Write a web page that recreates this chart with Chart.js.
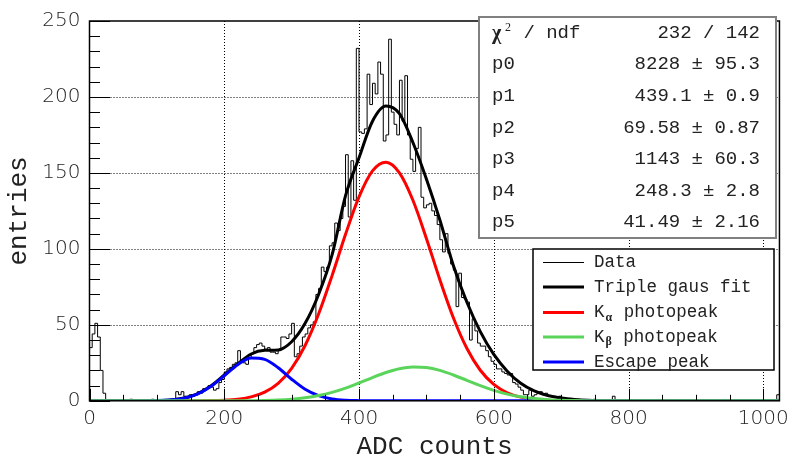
<!DOCTYPE html>
<html>
<head>
<meta charset="utf-8">
<title>ADC spectrum</title>
<script src="https://cdn.jsdelivr.net/npm/chart.js@4.4.0/dist/chart.umd.min.js"></script>
<style>
  html, body { margin: 0; padding: 0; background: #fff; }
  #wrap { width: 795px; height: 466px; }
</style>
</head>
<body>
<div id="wrap"><canvas id="adcChart" width="795" height="466"></canvas></div>
<script>
// ADC spectrum with triple gaussian fit

// Histogram: 256 bins of 4 ADC counts, 0..1024
const binWidth = 4;
const entries = [
  35, 44, 51, 42, 20, 5, 0, 0, 0, 0, 0, 0, 0, 0, 0, 1,
  0, 0, 0, 0, 0, 0, 0, 1, 0, 0, 0, 0, 0, 0, 1, 1,
  6, 4, 6, 3, 2, 4, 3, 4, 6, 5, 8, 8, 10, 9, 7, 8,
  12, 14, 19, 21, 22, 24, 25, 33, 26, 25, 24, 28, 31, 35, 37, 38,
  36, 34, 35, 32, 32, 31, 33, 42, 42, 41, 44, 51, 29, 31, 36, 42,
  44, 48, 50, 52, 70, 74, 88, 85, 88, 102, 104, 117, 112, 120, 128, 162,
  121, 158, 132, 232, 177, 176, 179, 215, 195, 209, 202, 223, 215, 171, 175, 238,
  190, 182, 175, 211, 184, 214, 175, 159, 151, 166, 180, 134, 127, 129, 130, 125,
  122, 116, 106, 98, 110, 97, 90, 86, 62, 84, 68, 67, 65, 40, 54, 46,
  38, 36, 36, 33, 29, 26, 24, 21, 21, 19, 18, 17, 18, 12, 11, 9,
  7, 4, 4, 7, 3, 4, 5, 6, 4, 5, 3, 3, 3, 2, 3, 2,
  2, 1, 0, 1, 0, 1, 0, 0, 0, 0, 0, 1, 0, 0, 0, 0,
  0, 0, 3, 0, 0, 0, 0, 0, 0, 0, 0, 0, 0, 0, 0, 0,
  0, 0, 0, 0, 0, 0, 0, 0, 0, 0, 0, 0, 0, 0, 0, 0,
  0, 0, 0, 0, 0, 0, 0, 0, 0, 0, 0, 0, 0, 0, 0, 0,
  0, 0, 0, 0, 0, 0, 0, 0, 0, 0, 0, 0, 0, 0, 0, 4
];

// Fit curves sampled at these ADC values
const curveX = [0, 50, 100, 120, 140, 160, 180, 200, 220, 240, 260, 280, 300, 320, 340, 360, 380,
  400, 420, 440, 460, 480, 500, 520, 540, 560, 580, 600, 620, 640, 660, 680, 700, 720, 740, 760,
  800, 900, 1024];
const fitTotal = [0, 0, 0.2, 0.6, 1.8, 4.6, 9.8, 17.0, 24.3, 30.8, 33.2, 33.5, 38.9, 51, 70, 96, 135,
  160, 184, 194, 189, 170, 146, 119, 89, 65, 45.5, 30.5, 19.5, 11.5, 6.5, 3.5, 1.8, 0.9, 0.4, 0.2,
  0, 0, 0];
const kAlpha = [0, 0, 0, 0, 0.02, 0.05, 0.15, 0.43, 1.1, 2.6, 5.7, 11.5, 21.4, 36.4, 57.1, 82.4, 109.6,
  134.2, 151.3, 157, 150, 132, 106.9, 79.7, 54.7, 34.6, 20.1, 10.8, 5.3, 2.4, 1.0, 0.39, 0.14, 0.05, 0.02, 0,
  0, 0, 0];
const kBeta = [0, 0, 0, 0, 0, 0, 0.01, 0.02, 0.04, 0.11, 0.25, 0.53, 1.06, 1.98, 3.44, 5.56, 8.37,
  11.73, 15.3, 18.6, 21.1, 22.25, 21.9, 20.0, 17.0, 13.5, 10.0, 6.9, 4.41, 2.64, 1.47, 0.76, 0.37, 0.16, 0.07, 0.03,
  0, 0, 0];
const escapePeak = [0, 0, 0.14, 0.53, 1.69, 4.4, 9.4, 16.5, 23.8, 28.2, 27.3, 21.8, 14.2, 7.6, 3.37, 1.22, 0.36,
  0.09, 0.02, 0, 0, 0, 0, 0, 0, 0, 0, 0, 0, 0, 0, 0, 0, 0, 0, 0,
  0, 0, 0];

// Axes
const xTicks = [0, 200, 400, 600, 800, 1000];
const yTicks = [0, 50, 100, 150, 200, 250];
const xGrid = [200, 400, 600, 800, 1000];
const yGrid = [50, 100, 150, 200];

// Fit statistics box
const statNames = ['p0', 'p1', 'p2', 'p3', 'p4', 'p5'];
const statValues = ['8228 \u00b1 95.3', '439.1 \u00b1 0.9', '69.58 \u00b1 0.87', '1143 \u00b1 60.3', '248.3 \u00b1 2.8', '41.49 \u00b1 2.16'];
const chi2Text = '232 / 142';

// Legend
const legendMain = ['Data', 'Triple gaus fit', 'K', 'K', 'Escape peak'];
const legendSub = ['', '', '\u03b1', '\u03b2', ''];
const legendRest = ['', '', ' photopeak', ' photopeak', ''];

const COLORS = {
  data: '#000000',
  fit: '#000000',
  kAlpha: '#ff0000',
  kBeta: '#5ad45a',
  escape: '#0000ff'
};
const legendColors = [COLORS.data, COLORS.fit, COLORS.kAlpha, COLORS.kBeta, COLORS.escape];
const legendWidths = [1, 3, 3, 3, 3];

const MONO = "'Liberation Mono', 'DejaVu Sans Mono', monospace";
const TICKFONT = {family: "'DejaVu Sans', sans-serif", size: 20, weight: '200'};

// histogram outline points (left edge of each bin, last one closes at the range end)
const histPoints = entries.map((v, i) => ({x: i * binWidth, y: v}));
histPoints.push({x: entries.length * binWidth, y: entries[entries.length - 1]});

const toPoints = arr => curveX.map((x, i) => ({x: x, y: arr[i]}));

function curve(label, arr, color) {
    return {
        label: label,
        data: toPoints(arr),
        borderColor: color,
        borderWidth: 3,
        pointRadius: 0,
        fill: false,
        cubicInterpolationMode: 'monotone'
    };
}

// ROOT-like frame, dotted grid, inward ticks, stats box and legend
const rootStyle = {
    id: 'rootStyle',
    beforeDatasetsDraw(chart) {
        const {ctx, chartArea: a, scales: {x, y}} = chart;
        ctx.save();
        ctx.strokeStyle = '#000';
        ctx.lineWidth = 1;
        ctx.setLineDash([1, 2]);
        xGrid.forEach(v => {
            const px = Math.round(x.getPixelForValue(v)) + 0.5;
            ctx.beginPath(); ctx.moveTo(px, a.top); ctx.lineTo(px, a.bottom); ctx.stroke();
        });
        yGrid.forEach(v => {
            const py = Math.round(y.getPixelForValue(v)) + 0.5;
            ctx.beginPath(); ctx.moveTo(a.left, py); ctx.lineTo(a.right, py); ctx.stroke();
        });
        ctx.restore();
    },
    afterDatasetsDraw(chart) {
        const {ctx, chartArea: a, scales: {x, y}} = chart;
        ctx.save();
        ctx.strokeStyle = '#000';
        ctx.lineWidth = 1;
        // y ticks: major every 50, minor every 10
        for (let v = 0; v <= 250; v += 10) {
            const py = Math.round(y.getPixelForValue(v)) + 0.5;
            const len = v % 50 === 0 ? 20.5 : 10.5;
            ctx.beginPath(); ctx.moveTo(a.left, py); ctx.lineTo(a.left + len, py); ctx.stroke();
        }
        // x ticks: major every 200, minor every 50
        for (let v = 0; v <= 1024; v += 50) {
            const px = Math.round(x.getPixelForValue(v)) + 0.5;
            const len = v % 200 === 0 ? 12 : 6;
            ctx.beginPath(); ctx.moveTo(px, a.bottom); ctx.lineTo(px, a.bottom - len); ctx.stroke();
        }
        ctx.lineWidth = 1.5;
        ctx.strokeRect(a.left, a.top, a.right - a.left, a.bottom - a.top);
        ctx.restore();
    },
    afterDraw(chart) {
        const ctx = chart.ctx;
        ctx.save();

        // stats box
        const sl = 479, st = 17, sr = 776, sb = 238;
        ctx.fillStyle = '#fff';
        ctx.fillRect(sl, st, sr - sl, sb - st);
        ctx.strokeStyle = '#808080';
        ctx.lineWidth = 2;
        ctx.strokeRect(sl, st, sr - sl, sb - st);
        const rowH = (sb - st) / 7;
        ctx.fillStyle = '#222';
        ctx.textBaseline = 'middle';
        let cy = st + rowH / 2;
        ctx.textAlign = 'left';
        ctx.font = "bold 20px 'Liberation Serif', serif";
        ctx.fillText('\u03c7', 492, cy + 1);
        ctx.font = "12px 'Liberation Serif', serif";
        ctx.fillText('2', 505, cy - 5);
        ctx.font = '19px ' + MONO;
        ctx.fillText(' / ndf', 512, cy);
        ctx.textAlign = 'right';
        ctx.fillText(chi2Text, 760, cy);
        statNames.forEach((name, i) => {
            const ry = st + rowH * (i + 1.5);
            ctx.textAlign = 'left';
            ctx.fillText(name, 492, ry);
            ctx.textAlign = 'right';
            ctx.fillText(statValues[i], 760, ry);
        });

        // legend box
        const ll = 533, lt = 249, lr = 774, lb = 370;
        ctx.fillStyle = '#fff';
        ctx.fillRect(ll, lt, lr - ll, lb - lt);
        ctx.strokeStyle = '#000';
        ctx.lineWidth = 1.5;
        ctx.strokeRect(ll, lt, lr - ll, lb - lt);
        const rowY = [262.5, 287, 312.5, 337, 362];
        legendMain.forEach((txt, i) => {
            const ry = rowY[i];
            ctx.strokeStyle = legendColors[i];
            ctx.lineWidth = legendWidths[i];
            ctx.beginPath(); ctx.moveTo(543, ry); ctx.lineTo(584, ry); ctx.stroke();
            ctx.fillStyle = '#222';
            ctx.textAlign = 'left';
            ctx.font = '17.5px ' + MONO;
            let tx = 594;
            ctx.fillText(txt, tx, ry);
            tx += ctx.measureText(txt).width;
            if (legendSub[i]) {
                ctx.font = "bold 12px 'Liberation Serif', serif";
                ctx.fillText(legendSub[i], tx + 1, ry + 5);
                tx += ctx.measureText(legendSub[i]).width + 2;
                ctx.font = '17.5px ' + MONO;
                ctx.fillText(legendRest[i], tx, ry);
            }
        });
        ctx.restore();
    }
};

const ctx = document.getElementById('adcChart');
const adcChart = new Chart(ctx, {
    type: 'line',
    data: {
        datasets: [
            curve('K\u03b2 photopeak', kBeta, COLORS.kBeta),
            curve('Escape peak', escapePeak, COLORS.escape),
            curve('K\u03b1 photopeak', kAlpha, COLORS.kAlpha),
            curve('Triple gaus fit', fitTotal, COLORS.fit),
            {
                label: 'Data',
                data: histPoints,
                borderColor: COLORS.data,
                borderWidth: 1,
                pointRadius: 0,
                fill: false,
                stepped: true
            }
        ]
    },
    options: {
        responsive: false,
        devicePixelRatio: 1,
        animation: false,
        events: [],
        layout: {
            padding: {top: 8.3, right: 11.2, left: 0, bottom: 0}
        },
        plugins: {
            legend: {display: false},
            tooltip: {enabled: false}
        },
        scales: {
            x: {
                type: 'linear',
                min: 0,
                max: 1024,
                afterBuildTicks: s => { s.ticks = xTicks.map(v => ({value: v})); },
                afterFit: s => { s.height = 65.2; },
                grid: {display: false, drawTicks: false},
                border: {display: false},
                ticks: {
                    color: '#222',
                    padding: 6,
                    maxRotation: 0,
                    autoSkip: false,
                    font: TICKFONT,
                    callback: v => String(v)
                },
                title: {
                    display: true,
                    text: 'ADC counts',
                    color: '#222',
                    padding: {top: 0, bottom: 3.5},
                    font: {family: MONO, size: 26}
                }
            },
            y: {
                min: 0,
                max: 250,
                afterBuildTicks: s => { s.ticks = yTicks.map(v => ({value: v})); },
                afterFit: s => { s.width = 89.5; },
                grid: {display: false, drawTicks: false},
                border: {display: false},
                ticks: {
                    color: '#222',
                    padding: 9,
                    autoSkip: false,
                    font: TICKFONT,
                    callback: v => String(v)
                },
                title: {
                    display: true,
                    text: 'entries',
                    color: '#222',
                    padding: {top: 4, bottom: 0},
                    font: {family: MONO, size: 26}
                }
            }
        }
    },
    plugins: [rootStyle]
});
</script>
</body>
</html>
